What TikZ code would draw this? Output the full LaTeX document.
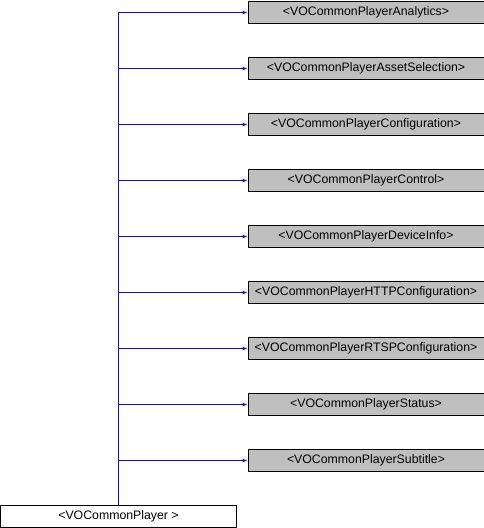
\documentclass[tikz,border=0pt]{standalone}
\usepackage{fontspec}
\setmainfont{Liberation Sans}
\usetikzlibrary{positioning,arrows.meta}
\begin{document}
\begin{tikzpicture}[x=1pt, y=1pt,
  cls/.style={draw=black, line width=1pt, fill=colorIface, minimum width=236pt, minimum height=22pt, inner sep=0pt, font=\fontsize{12.3}{14}\selectfont},
  base/.style={cls, fill=white},
  edge/.style={draw=colorEdge, line width=1pt, -{Latex[length=5pt,width=4pt]}}
    ]
    % Colori
    \definecolor{colorIface}{RGB}{191, 191, 191}
    \definecolor{colorEdge}{RGB}{25, 25, 140}

    \useasboundingbox (0,0) rectangle (484,-528);

    % Protocolli
    \node[cls, anchor=west] (analytics) at (247.5,-12.5) {<VOCommonPlayerAnalytics>};
    \node[cls, below=33pt of analytics] (assetsel) {<VOCommonPlayerAssetSelection>};
    \node[cls, below=33pt of assetsel] (config) {<VOCommonPlayerConfiguration>};
    \node[cls, below=33pt of config] (control) {<VOCommonPlayerControl>};
    \node[cls, below=33pt of control] (deviceinfo) {<VOCommonPlayerDeviceInfo>};
    \node[cls, below=33pt of deviceinfo] (httpconf) {<VOCommonPlayerHTTPConfiguration>};
    \node[cls, below=33pt of httpconf] (rtspconf) {<VOCommonPlayerRTSPConfiguration>};
    \node[cls, below=33pt of rtspconf] (status) {<VOCommonPlayerStatus>};
    \node[cls, below=33pt of status] (subtitle) {<VOCommonPlayerSubtitle>};

    % Classe base
    \node[base] (player) at (118.5,-516) {<VOCommonPlayer >};

    % Collegamenti
    \foreach \t in {analytics, assetsel, config, control, deviceinfo, httpconf, rtspconf, status, subtitle}
      \draw[edge] (player.north) |- (\t.west);
\end{tikzpicture}
\end{document}
